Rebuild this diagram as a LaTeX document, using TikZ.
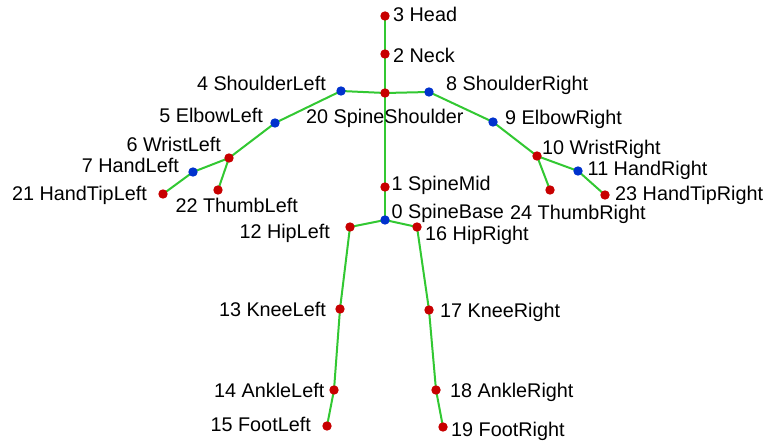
\documentclass[tikz,border=0pt]{standalone}
\usepackage{fontspec}
\setmainfont{Liberation Sans}
\definecolor{bone}{RGB}{50,200,50}
\definecolor{jred}{RGB}{200,0,0}
\definecolor{jblue}{RGB}{0,50,205}
\tikzset{
  bonel/.style={draw=bone,line width=2pt},
  rdot/.style={circle,fill=jred,inner sep=0pt,minimum size=9.4pt},
  bdot/.style={circle,fill=jblue,inner sep=0pt,minimum size=9.4pt},
  lbl/.style={inner sep=0pt,font=\fontsize{19.8}{22}\selectfont,text=black},
  lr/.style={lbl,anchor=base west},
  ll/.style={lbl,anchor=base east}
}
\begin{document}
\begin{tikzpicture}[x=1pt,y=-1pt]
\useasboundingbox[fill=white] (0,0) rectangle (767,443);
% joint positions
\coordinate (p3) at (385,16);
\coordinate (p2) at (385,54);
\coordinate (p20) at (385,93);
\coordinate (p4) at (341,91);
\coordinate (p8) at (429,92);
\coordinate (p5) at (275,123);
\coordinate (p9) at (493,122);
\coordinate (p6) at (229,158);
\coordinate (p10) at (537,156);
\coordinate (p7) at (193,172);
\coordinate (p11) at (578,171);
\coordinate (p21) at (163,194);
\coordinate (p22) at (218,190);
\coordinate (p23) at (605,195);
\coordinate (p24) at (550,190);
\coordinate (p1) at (385,187);
\coordinate (p0) at (385,220);
\coordinate (p12) at (350,227);
\coordinate (p16) at (417,227);
\coordinate (p13) at (340,309);
\coordinate (p17) at (429,310);
\coordinate (p14) at (334,390);
\coordinate (p18) at (436,390);
\coordinate (p15) at (327,426);
\coordinate (p19) at (443,427);
% bones
\draw[bonel] (p3) -- (p2) -- (p20) -- (p1) -- (p0);
\draw[bonel] (p20) -- (p4) -- (p5) -- (p6) -- (p7) -- (p21);
\draw[bonel] (p6) -- (p22);
\draw[bonel] (p20) -- (p8) -- (p9) -- (p10) -- (p11) -- (p23);
\draw[bonel] (p10) -- (p24);
\draw[bonel] (p0) -- (p12) -- (p13) -- (p14) -- (p15);
\draw[bonel] (p0) -- (p16) -- (p17) -- (p18) -- (p19);
% joints
\node[rdot] (j3) at (p3) {};
\node[rdot] (j2) at (p2) {};
\node[rdot] (j20) at (p20) {};
\node[bdot] (j4) at (p4) {};
\node[bdot] (j8) at (p8) {};
\node[bdot] (j5) at (p5) {};
\node[bdot] (j9) at (p9) {};
\node[rdot] (j6) at (p6) {};
\node[rdot] (j10) at (p10) {};
\node[bdot] (j7) at (p7) {};
\node[bdot] (j11) at (p11) {};
\node[rdot] (j21) at (p21) {};
\node[rdot] (j22) at (p22) {};
\node[rdot] (j23) at (p23) {};
\node[rdot] (j24) at (p24) {};
\node[rdot] (j1) at (p1) {};
\node[bdot] (j0) at (p0) {};
\node[rdot] (j12) at (p12) {};
\node[rdot] (j16) at (p16) {};
\node[rdot] (j13) at (p13) {};
\node[rdot] (j17) at (p17) {};
\node[rdot] (j14) at (p14) {};
\node[rdot] (j18) at (p18) {};
\node[rdot] (j15) at (p15) {};
\node[rdot] (j19) at (p19) {};
% labels
\node[lr] (t3) at (393,22) {3 Head};
\node[lr] (t2) at (393,63) {2 Neck};
\node[ll] (t4) at (326,90.5) {4 ShoulderLeft};
\node[lr] (t8) at (446,90.5) {8 ShoulderRight};
\node[ll] (t5) at (263,122.5) {5 ElbowLeft};
\node[lr] (t20) at (306,124) {20 SpineShoulder};
\node[lr] (t9) at (505,125) {9 ElbowRight};
\node[ll] (t6) at (221,151.5) {6 WristLeft};
\node[lr] (t10) at (542,154.3) {10 WristRight};
\node[ll] (t7) at (179,173) {7 HandLeft};
\node[lr] (t11) at (587.5,175.7) {11 HandRight};
\node[ll] (t21) at (147,200.7) {21 HandTipLeft};
\node[ll] (t22) at (298,212.3) {22 ThumbLeft};
\node[lr] (t23) at (615,200.7) {23 HandTipRight};
\node[lr] (t24) at (510,220) {24 ThumbRight};
\node[lr] (t1) at (391.5,191) {1 SpineMid};
\node[lr] (t0) at (391.5,218.3) {0 SpineBase};
\node[ll] (t12) at (330,238.5) {12 HipLeft};
\node[lr] (t16) at (425,240.7) {16 HipRight};
\node[ll] (t13) at (326,316.7) {13 KneeLeft};
\node[lr] (t17) at (440,317) {17 KneeRight};
\node[ll] (t14) at (324.5,397.7) {14 AnkleLeft};
\node[lr] (t18) at (450,397.7) {18 AnkleRight};
\node[ll] (t15) at (311,431.7) {15 FootLeft};
\node[lr] (t19) at (451,436) {19 FootRight};
\end{tikzpicture}
\end{document}
